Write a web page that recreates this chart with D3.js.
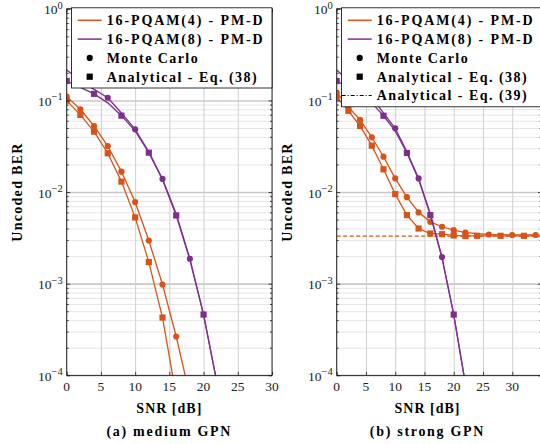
<!DOCTYPE html>
<html>
<head>
<meta charset="utf-8">
<script src="https://cdn.jsdelivr.net/npm/d3@7/dist/d3.min.js"></script>
<style>
body { margin: 0; background: #fff; }
svg { font-family: "Liberation Serif", "DejaVu Serif", serif; }
.grid path { stroke: none; }
.ticks path { stroke: none; }
.ticks line { stroke: #000; stroke-width: 0.7; }
</style>
</head>
<body>
<div id="plot"></div>
<script>

// ---- data ----
// (a) medium GPN
var medPq4SnrMC = [0, 2, 4, 6, 8, 10, 12, 14, 16, 18];
var medPq4MC    = [0.110, 0.080, 0.0526, 0.0318, 0.0167, 0.00778, 0.00296, 0.00098, 0.000265, 0.00006];
var medPq4SnrAn = [0, 2, 4, 6, 8, 10, 12, 14, 16];
var medPq4An    = [0.0995, 0.0695, 0.0456, 0.0265, 0.0130, 0.00529, 0.00172, 0.000427, 0.00006];
var pq8Snr      = [0, 2, 4, 6, 8, 10, 12, 14, 16, 18, 20, 22];
var medPq8MC    = [0.215, 0.165, 0.132, 0.107, 0.073, 0.0484, 0.0275, 0.0139, 0.0058, 0.00187, 0.00046, 0.00008];
var medPq8An    = [0.163, 0.139, 0.118, 0.094, 0.0682, 0.0465, 0.0269, 0.0136, 0.00556, 0.00182, 0.00046, 0.00008];

// (b) strong GPN
var strPq4SnrMC = [0, 2, 4, 6, 8, 10, 12, 14, 16, 18, 20, 22, 26, 30, 34];
var strPq4MC    = [0.122, 0.085, 0.0612, 0.0396, 0.0243, 0.0141, 0.0088, 0.0060, 0.00473, 0.00418, 0.00384, 0.0036, 0.00344, 0.0034, 0.0034];
var strPq4SnrAn = [0, 2, 4, 6, 8, 10, 12, 14, 16, 18, 20, 22, 24, 28, 32, 36];
var strPq4An    = [0.108, 0.077, 0.0526, 0.0321, 0.0177, 0.0095, 0.0056, 0.0040, 0.00353, 0.00347, 0.00336, 0.00332, 0.00333, 0.00333, 0.00333, 0.00333];
var strPq8MC    = [0.215, 0.165, 0.132, 0.107, 0.073, 0.0497, 0.0275, 0.0141, 0.0058, 0.00195, 0.00046, 0.00008];
var strPq8An    = [0.163, 0.139, 0.118, 0.094, 0.068, 0.0465, 0.0267, 0.0137, 0.0056, 0.0019, 0.00046, 0.00008];
var floorSnr    = [0, 36];
var floorBer    = [0.0033, 0.0033];

// marker positions for the PQAM(8) curves (marks every other point)
var pq8MarksMC = [2, 6, 10, 14, 18, 22];
var pq8MarksAn = [0, 4, 8, 12, 16, 20];

var yDecades = [1e-4, 1e-3, 1e-2, 1e-1, 1];
var legendNames = ["16-PQAM(4) - PM-D", "16-PQAM(8) - PM-D", "Monte Carlo", "Analytical - Eq. (38)", "Analytical - Eq. (39)"];
var legendTextLen = [156, 156, 91, 150, 150]; // text widths, px

var ORANGE = "#D95319", PURPLE = "#7E2F8E";

var W = 540, H = 444;
var plotTop = 8.8, plotBottom = 375.3;

var svg = d3.select("#plot").append("svg")
    .attr("width", W)
    .attr("height", H);

function zip(xs, ys) {
    return xs.map(function(x, i) { return [x, ys[i]]; });
}

var panels = [
    { id: "a", left: 66.7, right: 272, xmax: 30, caption: "(a) medium GPN", nLegend: 4,
      series: [
        { pts: zip(medPq4SnrMC, medPq4MC), color: ORANGE, mark: "circle" },
        { pts: zip(medPq4SnrAn, medPq4An), color: ORANGE, mark: "square" },
        { pts: zip(pq8Snr, medPq8MC), color: PURPLE, mark: "circle", marks: pq8MarksMC },
        { pts: zip(pq8Snr, medPq8An), color: PURPLE, mark: "square", marks: pq8MarksAn }
      ] },
    { id: "b", left: 336.7, right: 541.5, xmax: 35, caption: "(b) strong GPN", nLegend: 5,
      series: [
        { pts: zip(floorSnr, floorBer), color: ORANGE, dash: "4,2.5" },
        { pts: zip(strPq4SnrMC, strPq4MC), color: ORANGE, mark: "circle" },
        { pts: zip(strPq4SnrAn, strPq4An), color: ORANGE, mark: "square" },
        { pts: zip(pq8Snr, strPq8MC), color: PURPLE, mark: "circle", marks: pq8MarksMC },
        { pts: zip(pq8Snr, strPq8An), color: PURPLE, mark: "square", marks: pq8MarksAn }
      ] }
];

function drawMark(sel, type, cx, cy, color) {
    if (type === "circle") {
        sel.append("circle").attr("cx", cx).attr("cy", cy).attr("r", 3.1).style("fill", color);
    } else {
        sel.append("rect").attr("x", cx - 3.1).attr("y", cy - 3.1)
            .attr("width", 6.2).attr("height", 6.2).style("fill", color);
    }
}

panels.forEach(function(p) {
    var x = d3.scaleLinear().domain([0, p.xmax]).range([p.left, p.right]);
    var y = d3.scaleLog().domain([1e-4, 1]).range([plotBottom, plotTop]);
    var w = p.right - p.left, h = plotBottom - plotTop;

    var g = svg.append("g").attr("class", "panel-" + p.id);

    // minor log values
    var minor = [];
    for (var e = -4; e < 0; e++) {
        for (var k = 2; k <= 9; k++) minor.push(k * Math.pow(10, e));
    }

    // grid
    g.append("g").attr("class", "grid")
        .attr("transform", "translate(" + p.left + ",0)")
        .call(d3.axisLeft(y).tickValues(minor).tickSize(-w).tickFormat(""))
        .selectAll("line").style("stroke", "#e0e0e0").style("stroke-width", 0.8);
    g.append("g").attr("class", "grid")
        .attr("transform", "translate(" + p.left + ",0)")
        .call(d3.axisLeft(y).tickValues(yDecades).tickSize(-w).tickFormat(""))
        .selectAll("line").style("stroke", "#c8c8c8").style("stroke-width", 1.6);
    g.append("g").attr("class", "grid")
        .attr("transform", "translate(0," + plotBottom + ")")
        .call(d3.axisBottom(x).tickValues(d3.range(0, p.xmax + 1, 5)).tickSize(-h).tickFormat(""))
        .selectAll("line").style("stroke", "#cfcfcf").style("stroke-width", 1);

    // data
    var clipId = "clip-" + p.id;
    g.append("clipPath").attr("id", clipId)
        .append("rect").attr("x", p.left).attr("y", plotTop).attr("width", w).attr("height", h);
    var body = g.append("g").attr("clip-path", "url(#" + clipId + ")");

    var line = d3.line()
        .x(function(d) { return x(d[0]); })
        .y(function(d) { return y(d[1]); });

    p.series.forEach(function(s) {
        body.append("path")
            .attr("d", line(s.pts))
            .style("fill", "none")
            .style("stroke", s.color)
            .style("stroke-width", 1.3)
            .style("stroke-dasharray", s.dash || null);
        if (s.mark) {
            s.pts.forEach(function(d) {
                if (s.marks && s.marks.indexOf(d[0]) < 0) return;
                drawMark(body, s.mark, x(d[0]), y(d[1]), s.color);
            });
        }
    });

    // ticks (inside, all four sides)
    var xt = d3.range(0, 31, 5);
    g.append("g").attr("class", "ticks").attr("transform", "translate(0," + plotBottom + ")")
        .call(d3.axisBottom(x).tickValues(xt).tickSize(-3.5).tickFormat(""));
    g.append("g").attr("class", "ticks").attr("transform", "translate(0," + plotTop + ")")
        .call(d3.axisTop(x).tickValues(xt).tickSize(-3.5).tickFormat(""));
    [[p.left, d3.axisLeft], [p.right, d3.axisRight]].forEach(function(a) {
        g.append("g").attr("class", "ticks").attr("transform", "translate(" + a[0] + ",0)")
            .call(a[1](y).tickValues(yDecades).tickSize(-3.5).tickFormat(""));
        g.append("g").attr("class", "ticks").attr("transform", "translate(" + a[0] + ",0)")
            .call(a[1](y).tickValues(minor).tickSize(-2).tickFormat(""));
    });

    // frame
    g.append("rect")
        .attr("x", p.left).attr("y", plotTop).attr("width", w).attr("height", h)
        .style("fill", "none").style("stroke", "#000").style("stroke-width", 0.8);

    // tick labels
    g.selectAll(".xlab").data(xt).enter().append("text")
        .attr("x", function(d) { return x(d); })
        .attr("y", plotBottom + 15.5)
        .attr("text-anchor", "middle")
        .style("font-size", "13.5px")
        .style("fill", "#222")
        .text(function(d) { return d; });

    yDecades.forEach(function(v) {
        var ex = Math.round(Math.log10(v));
        var t = g.append("text")
            .attr("x", p.left - 4)
            .attr("y", y(v) + 5.5)
            .attr("text-anchor", "end")
            .style("font-size", "13.5px")
            .style("fill", "#222");
        t.append("tspan").text("10");
        t.append("tspan").attr("dy", -5.5).style("font-size", "10.5px")
            .text(ex === 0 ? "0" : "\u2212" + (-ex));
    });

    // axis labels
    var cx = p.id === "b" ? (p.left + 512.3) / 2 + 3 : (p.left + p.right) / 2;
    g.append("text")
        .attr("x", cx)
        .attr("y", 412.5)
        .attr("text-anchor", "middle")
        .style("font-size", "14px").style("font-weight", "bold")
        .style("letter-spacing", "1px")
        .text("SNR [dB]");
    g.append("text")
        .attr("transform", "translate(" + (p.left - 44.5) + "," + ((plotTop + plotBottom) / 2) + ") rotate(-90)")
        .attr("text-anchor", "middle")
        .style("font-size", "14px").style("font-weight", "bold")
        .style("letter-spacing", "1.3px")
        .text("Uncoded BER");
    g.append("text")
        .attr("x", cx)
        .attr("y", 436)
        .attr("text-anchor", "middle")
        .style("font-size", "14px").style("font-weight", "bold")
        .style("letter-spacing", "1.7px")
        .text(p.caption);

    // legend
    var rowH = 18.8;
    var leg = g.append("g").attr("class", "legend");
    leg.append("rect")
        .attr("x", p.left + 4.8).attr("y", plotTop - 1)
        .attr("width", p.right - p.left - 4.8)
        .attr("height", p.nLegend * rowH + 5)
        .style("fill", "#fff").style("stroke", "#000").style("stroke-width", 0.8);
    for (var i = 0; i < p.nLegend; i++) {
        var ry = plotTop + 11.5 + i * rowH;
        var lx0 = p.left + 11, lx1 = p.left + 35, mx = (lx0 + lx1) / 2;
        if (i < 2) {
            leg.append("line").attr("x1", lx0).attr("x2", lx1).attr("y1", ry).attr("y2", ry)
                .style("stroke", i === 0 ? ORANGE : PURPLE).style("stroke-width", 1.5);
        } else if (i === 2) {
            drawMark(leg, "circle", mx, ry, "#000");
        } else if (i === 3) {
            drawMark(leg, "square", mx, ry, "#000");
        } else {
            leg.append("line").attr("x1", lx0 - 6).attr("x2", lx1).attr("y1", ry).attr("y2", ry)
                .style("stroke", "#000").style("stroke-width", 1.2)
                .style("stroke-dasharray", "4,2,1,2");
        }
        leg.append("text")
            .attr("x", p.left + 40)
            .attr("y", ry + 4.8)
            .attr("textLength", legendTextLen[i])
            .attr("lengthAdjust", "spacing")
            .style("font-size", "14px").style("font-weight", "bold")
            .text(legendNames[i]);
    }
});

</script>
</body>
</html>
